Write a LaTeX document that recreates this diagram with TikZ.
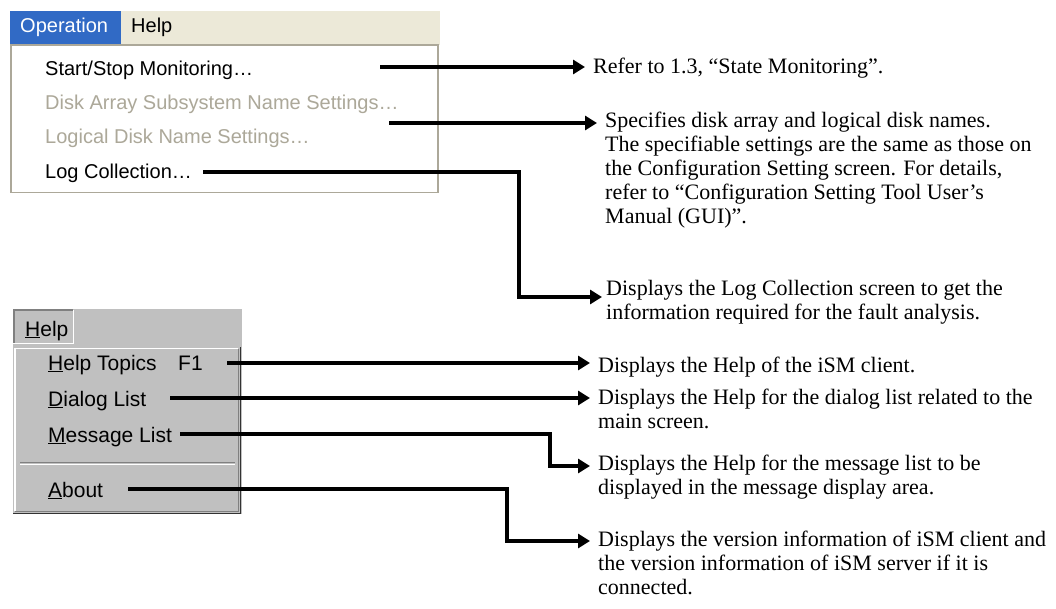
\documentclass[tikz,border=0pt]{standalone}
\usepackage{fontspec}
\setmainfont{Liberation Serif}
\newfontfamily\uifont{Liberation Sans}
\usetikzlibrary{arrows.meta}
\definecolor{xpblue}{HTML}{316AC5}
\definecolor{xpbar}{HTML}{ECE9D8}
\definecolor{xpgray}{HTML}{ACA899}
\definecolor{wingray}{HTML}{C0C0C0}
\definecolor{windark}{HTML}{808080}
\newcommand\myTopStrut{\rule{0pt}{18pt}}
\tikzset{
  desc/.style={font=\fontsize{22}{24}\selectfont, anchor=north west, inner sep=0pt, align=left},
  opitem/.style={font=\uifont\fontsize{20}{21}\selectfont, anchor=base west, inner sep=0pt},
  hitem/.style={font=\uifont\fontsize{21}{22}\selectfont, anchor=base west, inner sep=0pt},
  conn/.style={line width=3.1pt, -{Triangle[length=12pt,width=14pt]}, shorten >=8pt},
}
\begin{document}
\begin{tikzpicture}[x=1pt,y=-1pt]
\useasboundingbox (0,0) rectangle (1056,609);
\fill[white] (0,0) rectangle (1056,609);
% ---------- Operation menu ----------
\fill[xpbar] (10,11) rectangle (440,45);
\fill[xpblue] (10,11) rectangle (121,45);
\node[opitem, text=white] (mop) at (20,33) {Operation};
\node[opitem] (mhelp) at (131,33) {Help};
\filldraw[fill=white, draw=xpgray, line width=1.5pt] (10.75,45) rectangle (437.75,192.75);
\node[opitem] (i1) at (45,76) {Start/Stop Monitoring…};
\node[opitem, text=xpgray] (i2) at (45,110) {Disk Array Subsystem Name Settings…};
\node[opitem, text=xpgray] (i3) at (45,144) {Logical Disk Name Settings…};
\node[opitem] (i4) at (45,179) {Log Collection…};
% ---------- Help menu ----------
\fill[wingray] (13,309) rectangle (242,514);
\draw[windark, line width=1.5pt] (13.75,343) -- (13.75,309.75) -- (73,309.75);
\draw[white, line width=1.5pt] (73.25,309.75) -- (73.25,343.25) -- (13,343.25);
\node[hitem] (hh) at (25,336) {\underline{H}elp};
\draw[white, line width=1.5pt] (15,511) -- (15,348.5) -- (238,348.5);
\draw[black!80, line width=1.5pt] (240.5,347) -- (240.5,513.25) -- (13,513.25);
\draw[windark, line width=1.2pt] (238.5,349) -- (238.5,511.5) -- (15,511.5);
\node[hitem] (h1) at (48,370) {\underline{H}elp Topics};
\node[hitem] (h1k) at (178,370) {F1};
\node[hitem] (h2) at (48,406) {\underline{D}ialog List};
\node[hitem] (h3) at (48,442) {\underline{M}essage List};
\draw[windark, line width=1pt] (20,462.5) -- (235,462.5);
\draw[white, line width=1pt] (20,464) -- (235,464);
\node[hitem] (h4) at (48,497) {\underline{A}bout};
% ---------- descriptions ----------
\node[desc] (t1) at (593,55) {\myTopStrut Refer to 1.3, “State Monitoring”.};
\node[desc] (t2) at (605,109) {\myTopStrut Specifies disk array and logical disk names.\\
The specifiable settings are the same as those on\\
the Configuration Setting screen. For details,\\
refer to “Configuration Setting Tool User’s\\
Manual (GUI)”.};
\node[desc] (t3) at (606,277) {\myTopStrut Displays the Log Collection screen to get the\\
information required for the fault analysis.};
\node[desc] (t4) at (598,354) {\myTopStrut Displays the Help of the iSM client.};
\node[desc] (t5) at (598,386) {\myTopStrut Displays the Help for the dialog list related to the\\
main screen.};
\node[desc] (t6) at (598,452) {\myTopStrut Displays the Help for the message list to be\\
displayed in the message display area.};
\node[desc] (t7) at (598,528) {\myTopStrut Displays the version information of iSM client and\\
the version information of iSM server if it is\\
connected.};
% ---------- connectors ----------
\coordinate (s1) at (380,67);
\coordinate (s2) at (389,123);
\coordinate (s3) at (203,172);
\coordinate (k3) at (519,297);
\coordinate (s4) at (227,363);
\coordinate (s5) at (170,398);
\coordinate (s6) at (180,434);
\coordinate (k6) at (550,466);
\coordinate (s7) at (128,489);
\coordinate (k7) at (507,541);
\draw[conn] (s1) -- (s1 -| t1.west);
\draw[conn] (s2) -- (s2 -| t2.west);
\draw[conn, shorten >=4pt] (s3) -| (k3) -- (k3 -| t3.west);
\draw[conn] (s4) -- (s4 -| t4.west);
\draw[conn] (s5) -- (s5 -| t5.west);
\draw[conn] (s6) -| (k6) -- (k6 -| t6.west);
\draw[conn] (s7) -| (k7) -- (k7 -| t7.west);
\end{tikzpicture}
\end{document}
